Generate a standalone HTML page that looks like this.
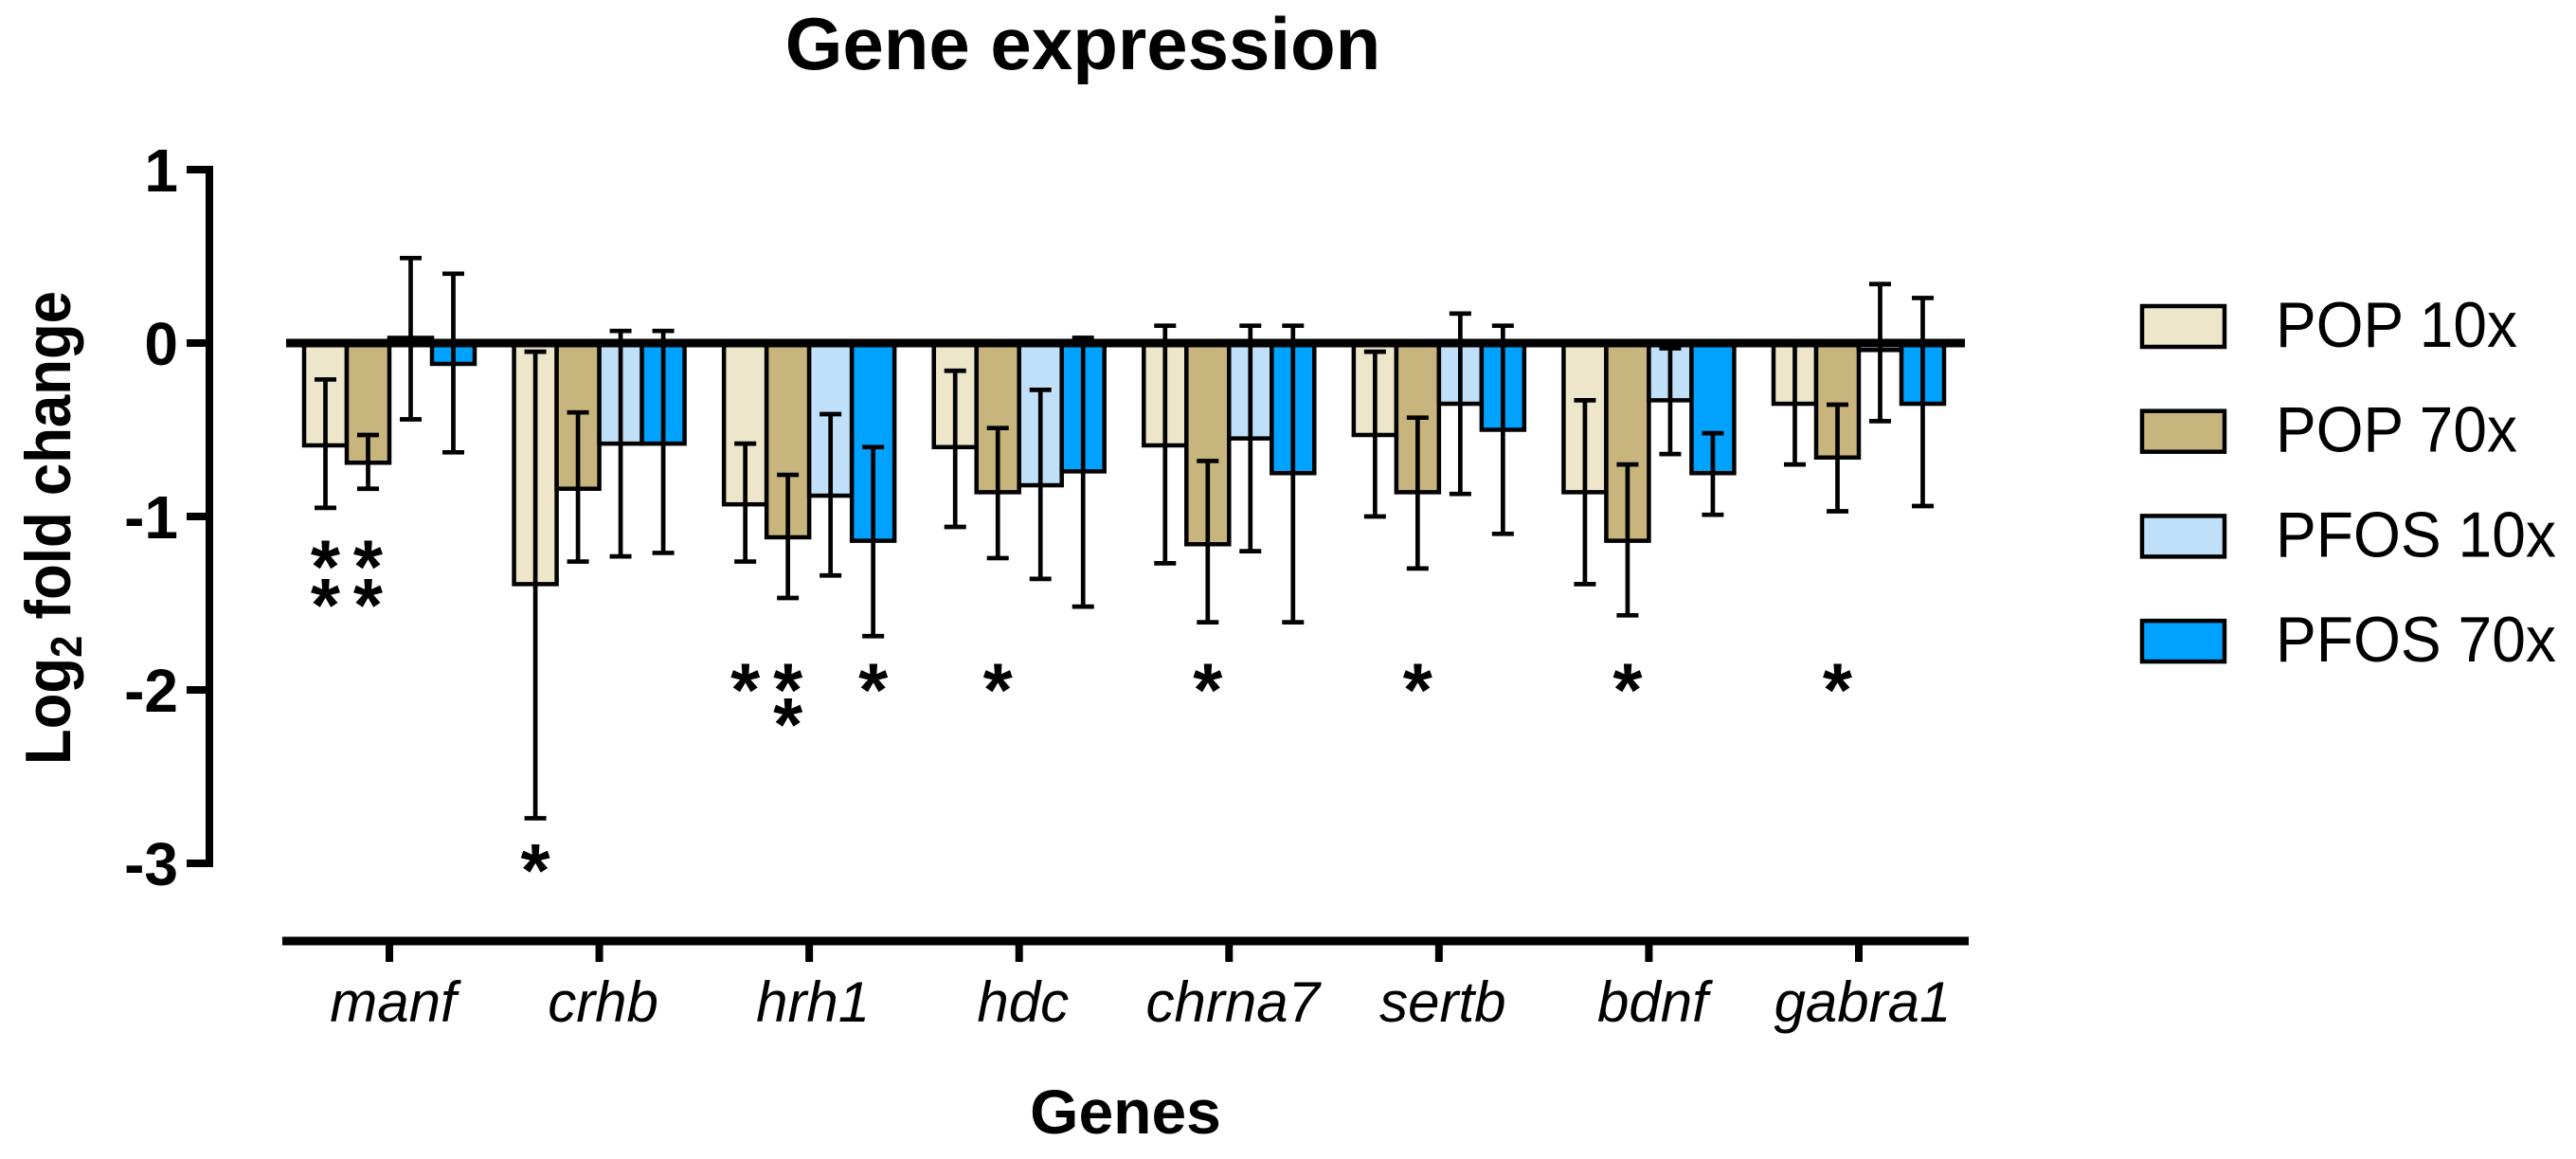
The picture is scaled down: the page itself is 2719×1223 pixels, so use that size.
<!DOCTYPE html>
<html><head><meta charset="utf-8"><style>
html,body{margin:0;padding:0;background:#fff;}
svg{display:block;font-family:"Liberation Sans",Arial,sans-serif;}
</style></head><body>
<svg id="chart" width="2719" height="1223" viewBox="0 0 2719 1223" xmlns="http://www.w3.org/2000/svg">
<text x="1143" y="73" font-size="78" font-weight="bold" text-anchor="middle">Gene expression</text>
<text transform="translate(74,557) rotate(-90)" font-size="68" font-weight="bold" text-anchor="middle" textLength="500" lengthAdjust="spacingAndGlyphs">Log<tspan font-size="46" dy="12">2</tspan><tspan dy="-12"> fold change</tspan></text>
<text x="1188" y="1196" font-size="66" font-weight="bold" text-anchor="middle">Genes</text>
<g id="plot"></g>
<g id="legend"></g>
</svg>
<script>
const genes = ["manf","crhb","hrh1","hdc","chrna7","sertb","bdnf","gabra1"];
const seriesNames = ["POP 10x","POP 70x","PFOS 10x","PFOS 70x"];
const seriesColors = ["#EDE6CA","#C8B57D","#C0DFF8","#00A2FF"];
const pop10 = [-0.59,-1.39,-0.93,-0.60,-0.59,-0.53,-0.86,-0.35];
const pop70 = [-0.69,-0.84,-1.12,-0.86,-1.16,-0.86,-1.14,-0.66];
const pfos10 = [0.03,-0.58,-0.88,-0.82,-0.55,-0.35,-0.33,-0.04];
const pfos70 = [-0.12,-0.58,-1.14,-0.74,-0.75,-0.50,-0.75,-0.35];
const pop10Hi = [-0.21,-0.05,-0.58,-0.16,0.10,-0.05,-0.33,0.00];
const pop10Lo = [-0.95,-2.74,-1.26,-1.06,-1.27,-1.00,-1.39,-0.70];
const pop70Hi = [-0.53,-0.40,-0.76,-0.49,-0.68,-0.43,-0.70,-0.355];
const pop70Lo = [-0.84,-1.26,-1.47,-1.24,-1.61,-1.30,-1.57,-0.97];
const pfos10Hi = [0.49,0.07,-0.41,-0.27,0.10,0.17,-0.03,0.34];
const pfos10Lo = [-0.44,-1.23,-1.34,-1.36,-1.20,-0.87,-0.64,-0.45];
const pfos70Hi = [0.40,0.07,-0.60,0.03,0.10,0.10,-0.52,0.26];
const pfos70Lo = [-0.63,-1.21,-1.69,-1.52,-1.61,-1.10,-0.99,-0.94];
const starGene = [0,0,0,0,1,2,2,2,2,3,4,5,6,7];
const starSeries = [0,1,0,1,0,0,1,1,3,1,1,1,1,1];
const starLevel = [-1.20,-1.20,-1.42,-1.42,-2.95,-1.91,-1.91,-2.11,-1.91,-1.91,-1.91,-1.91,-1.91,-1.91];
const yTicks = [1,0,-1,-2,-3];
const yTickLabels = ["1","0","-1","-2","-3"];

const NS="http://www.w3.org/2000/svg";
const plot=document.getElementById('plot');
const legend=document.getElementById('legend');
const legendTextWidths=[255,255,296,296];
function y(v){return 362-183*v;}
function gx(i){return 411+221.57*i;}
function bx(i,j){return gx(i)-90+45*j;}
function mk(tag,attrs,parent){const e=document.createElementNS(NS,tag);for(const k in attrs)e.setAttribute(k,attrs[k]);(parent||plot).appendChild(e);return e;}

const vals=[pop10,pop70,pfos10,pfos70];
const his=[pop10Hi,pop70Hi,pfos10Hi,pfos70Hi];
const los=[pop10Lo,pop70Lo,pfos10Lo,pfos70Lo];

for(let j=0;j<4;j++){
  for(let i=0;i<genes.length;i++){
    const v=vals[j][i];
    const top=Math.min(y(0),y(v)),h=Math.abs(y(v)-y(0));
    const r=mk('rect',{x:bx(i,j),y:top,width:45,height:h,fill:seriesColors[j],stroke:'#000','stroke-width':4.5});
    
    
  }
}
for(let j=0;j<4;j++){
  for(let i=0;i<genes.length;i++){
    const cx=bx(i,j)+22.5;
    const g=mk('g',{stroke:'#000','stroke-width':4.7});
    
    
    mk('line',{x1:cx,x2:cx,y1:y(his[j][i]),y2:y(los[j][i])},g);
    mk('line',{x1:cx-11.5,x2:cx+11.5,y1:y(his[j][i]),y2:y(his[j][i])},g);
    mk('line',{x1:cx-11.5,x2:cx+11.5,y1:y(los[j][i]),y2:y(los[j][i])},g);
  }
}
const zl=mk('line',{x1:302,x2:2074,y1:y(0),y2:y(0),stroke:'#000','stroke-width':9});


const ya=mk('g',{stroke:'#000','stroke-width':8});


mk('line',{x1:221,x2:221,y1:y(1)-4,y2:y(-3)+4},ya);
for(let k=0;k<yTicks.length;k++){
  mk('line',{x1:197,x2:221,y1:y(yTicks[k]),y2:y(yTicks[k])},ya);
  const t=mk('text',{x:188,y:y(yTicks[k])+23,'font-size':64,'font-weight':'bold','text-anchor':'end'});
  t.textContent=yTickLabels[k];
  
  
}
const xa=mk('g',{stroke:'#000','stroke-width':9});


mk('line',{x1:298,x2:2078,y1:993,y2:993},xa);
for(let i=0;i<genes.length;i++){
  mk('line',{x1:gx(i),x2:gx(i),y1:993,y2:1015,'stroke-width':8},xa);
  const t=mk('text',{x:gx(i)+4,y:1078,'font-size':60,'font-style':'italic','text-anchor':'middle'});
  t.textContent=genes[i];
  
  
}
for(let k=0;k<starGene.length;k++){
  const cx=bx(starGene[k],starSeries[k])+22.5;
  const t=mk('text',{x:cx,y:y(starLevel[k])+44,'font-size':80,'font-weight':'bold','text-anchor':'middle'});
  t.textContent='*';
  
  
}
for(let j=0;j<4;j++){
  const top=321+110.7*j;
  const r=mk('rect',{x:2261,y:top+2,width:87,height:43,fill:seriesColors[j],stroke:'#000','stroke-width':4.5},legend);
  
  
  const t=mk('text',{x:2402,y:top+45,'font-size':68,textLength:legendTextWidths[j],lengthAdjust:'spacingAndGlyphs'},legend);
  t.textContent=seriesNames[j];
  
  
}
</script>
</body></html>
